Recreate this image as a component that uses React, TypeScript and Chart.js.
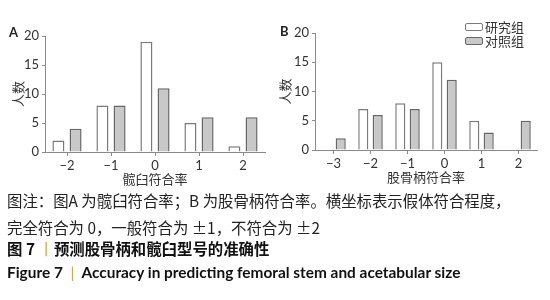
import React, { useEffect, useRef } from "react";
import { Chart, registerables } from "chart.js";

Chart.register(...registerables);

// ---- data ----
const seriesNames = ["研究组", "对照组"];
const catsA = ["−2", "−1", "0", "1", "2"];
const studyA = [2, 8, 19, 5, 1];
const controlA = [4, 8, 11, 6, 6];
const catsB = ["−3", "−2", "−1", "0", "1", "2"];
const studyB = [0, 7, 8, 15, 5, 0];
const controlB = [2, 6, 7, 12, 3, 5];
const yTicks = [0, 5, 10, 15, 20];
const titleA = "髋臼符合率";
const titleB = "股骨柄符合率";
const yTitle = "人数";

// ---- styles ----
const fills = ["#ffffff", "#c8c8c8"];
const borders = ["#7a7a7a", "#666666"];
const textColor = "#333333";
const axisColor = "#8a8a8a";

type PanelProps = {
  cats: string[];
  study: number[];
  control: number[];
  xTitle: string;
  left: number;
  top: number;
  width: number;
  height: number;
  yWidth: number;
  padRight: number;
  padTop: number;
  xHeight: number;
  yTitlePad: number;
};

function BarPanel(p: PanelProps) {
  const ref = useRef<HTMLCanvasElement | null>(null);
  useEffect(() => {
    if (!ref.current) return;
    const chart = new Chart(ref.current, {
      type: "bar",
      data: {
        labels: p.cats,
        datasets: [
          {
            label: seriesNames[0],
            data: p.study,
            backgroundColor: fills[0],
            borderColor: borders[0],
            borderWidth: 1.5,
            categoryPercentage: 0.78,
            barPercentage: 0.7,
          },
          {
            label: seriesNames[1],
            data: p.control,
            backgroundColor: fills[1],
            borderColor: borders[1],
            borderWidth: 1.5,
            categoryPercentage: 0.78,
            barPercentage: 0.7,
          },
        ],
      },
      options: {
        responsive: false,
        animation: false,
        devicePixelRatio: 1,
        layout: { padding: { left: 0, right: p.padRight, top: p.padTop, bottom: 0 } },
        plugins: { legend: { display: false }, tooltip: { enabled: false } },
        scales: {
          x: {
            type: "category",
            offset: true,
            grid: {
              offset: false,
              drawOnChartArea: false,
              tickLength: 4,
              color: axisColor,
            },
            border: { color: axisColor, width: 1 },
            ticks: {
              color: textColor,
              font: { family: "Lato", size: 13 },
              padding: 2,
              maxRotation: 0,
              autoSkip: false,
            },
            title: {
              display: true,
              text: p.xTitle,
              color: textColor,
              font: { family: "Noto Sans CJK SC", size: 13 },
              padding: { top: 0, bottom: 3 },
            },
            afterFit: (s: any) => {
              s.height = p.xHeight;
            },
          },
          y: {
            min: 0,
            max: 20,
            afterBuildTicks: (s: any) => {
              s.ticks = yTicks.map((v) => ({ value: v }));
            },
            grid: {
              drawOnChartArea: false,
              tickLength: 3,
              color: axisColor,
            },
            border: { color: axisColor, width: 1 },
            ticks: {
              color: textColor,
              font: { family: "Lato", size: 13 },
              padding: 3,
            },
            title: {
              display: true,
              text: yTitle,
              color: textColor,
              font: { family: "Noto Sans CJK SC", size: 13 },
              padding: { top: p.yTitlePad, bottom: 0 },
            },
            afterFit: (s: any) => {
              s.width = p.yWidth;
            },
          },
        },
      },
    } as any);
    return () => chart.destroy();
  }, []);
  return (
    <canvas
      ref={ref}
      width={p.width}
      height={p.height}
      style={{ position: "absolute", left: p.left, top: p.top, width: p.width, height: p.height }}
    />
  );
}

const capFont = '"Noto Sans CJK SC", sans-serif';
const capSize = 15.4;

export default function App() {
  return (
    <div
      style={{
        position: "absolute",
        left: 0,
        top: 0,
        width: 550,
        height: 300,
        background: "#ffffff",
        overflow: "hidden",
        fontFamily: capFont,
      }}
    >
      <BarPanel
        cats={catsA}
        study={studyA}
        control={controlA}
        xTitle={titleA}
        left={0}
        top={0}
        width={272}
        height={190}
        yWidth={45}
        padRight={7}
        padTop={36}
        xHeight={38}
        yTitlePad={10}
      />
      <BarPanel
        cats={catsB}
        study={studyB}
        control={controlB}
        xTitle={titleB}
        left={272}
        top={0}
        width={278}
        height={188}
        yWidth={43}
        padRight={13}
        padTop={33}
        xHeight={38}
        yTitlePad={5}
      />
      <div style={{ position: "absolute", left: 9, top: 24, fontFamily: "Lato", fontWeight: 700, fontSize: 13, color: "#222" }}>A</div>
      <div style={{ position: "absolute", left: 280, top: 23, fontFamily: "Lato", fontWeight: 700, fontSize: 13, color: "#222" }}>B</div>
      {seriesNames.map((n, i) => (
        <div
          key={n}
          style={{ position: "absolute", left: 465, top: 20 + i * 14, height: 14, display: "flex", alignItems: "center", fontSize: 13, color: "#333", lineHeight: "14px" }}
        >
          <span
            style={{
              display: "inline-block",
              width: 16,
              height: 6,
              border: `1.5px solid ${borders[i]}`,
              borderRadius: 2,
              background: fills[i],
              marginRight: 2,
            }}
          />
          <span>{n}</span>
        </div>
      ))}
      <div style={{ position: "absolute", left: 7, top: 192, fontSize: capSize, lineHeight: "17px", color: "#222", whiteSpace: "nowrap" }}>
        图注：图A 为髋臼符合率；B 为股骨柄符合率。横坐标表示假体符合程度，
      </div>
      <div style={{ position: "absolute", left: 7, top: 219, fontSize: capSize, lineHeight: "17px", color: "#222", whiteSpace: "nowrap" }}>
        完全符合为 0，一般符合为 ±1，不符合为 ±2
      </div>
      <div style={{ position: "absolute", left: 7, top: 240, fontSize: capSize, lineHeight: "17px", color: "#111", fontWeight: 600, whiteSpace: "nowrap" }}>
        图 7 <span style={{ color: "#d4a24c", fontWeight: 400 }}>丨</span>预测股骨柄和髋臼型号的准确性
      </div>
      <div style={{ position: "absolute", left: 7, top: 264, fontSize: capSize, lineHeight: "17px", color: "#111", fontFamily: "Lato", fontWeight: 700, whiteSpace: "nowrap" }}>
        Figure 7 <span style={{ color: "#d4a24c", fontWeight: 400 }}>&nbsp;|&nbsp;</span> Accuracy in predicting femoral stem and acetabular size
      </div>
    </div>
  );
}
